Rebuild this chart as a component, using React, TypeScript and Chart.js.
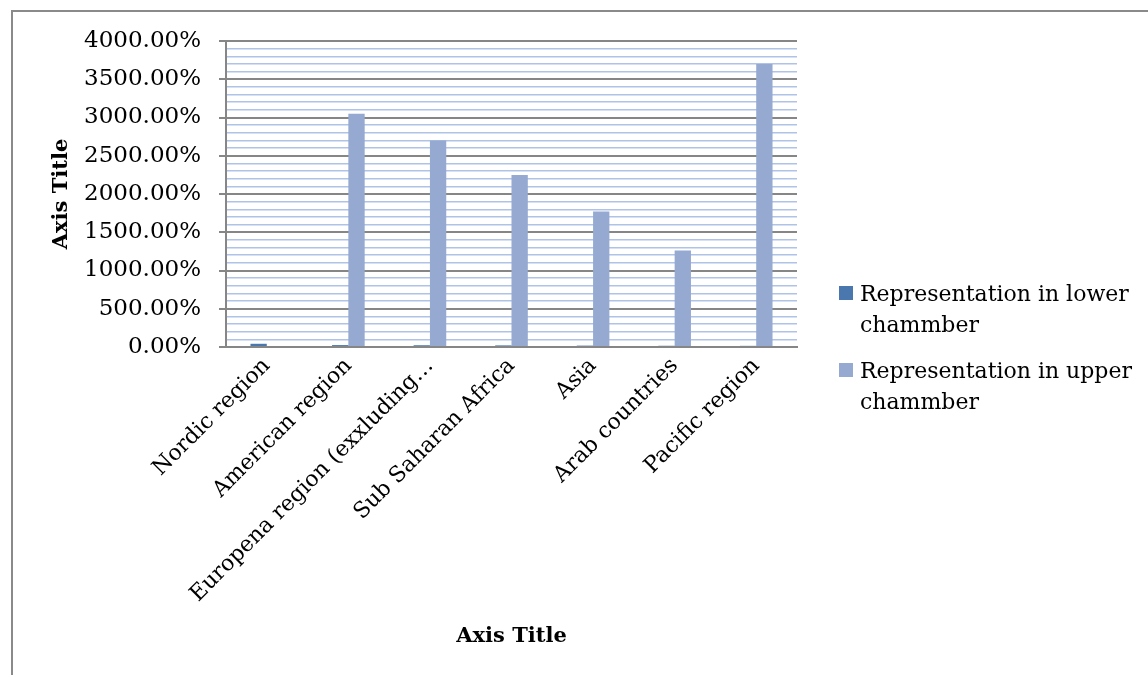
import React, { useEffect, useRef } from "react";
import { Chart, registerables } from "chart.js";

Chart.register(...registerables);

const categories = [
  "Nordic region",
  "American region",
  "Europena region (exxluding…",
  "Sub Saharan Africa",
  "Asia",
  "Arab countries",
  "Pacific region",
];
const lowerChamber = [42, 25, 23, 21, 18, 16, 15];
const upperChamber = [null, 3050, 2700, 2250, 1770, 1260, 3700];
const seriesNames = [
  "Representation in lower chammber",
  "Representation in upper chammber",
];
const seriesColors = ["#4A78AE", "#95A9D1"];
const yMin = 0;
const yMax = 4000;
const yMajorStep = 500;
const yMinorStep = 100;
const axisTitleX = "Axis Title";
const axisTitleY = "Axis Title";

const FONT = "'DejaVu Serif', serif";

export default function App() {
  const ref = useRef<HTMLCanvasElement | null>(null);

  useEffect(() => {
    if (!ref.current) return;
    const isMajor = (v: number) => Math.abs(v % yMajorStep) < 1e-6;
    const chart = new Chart(ref.current, {
      type: "bar",
      data: {
        labels: categories,
        datasets: [
          {
            label: seriesNames[0],
            data: lowerChamber,
            backgroundColor: seriesColors[0],
            categoryPercentage: 0.4,
            barPercentage: 1.0,
          },
          {
            label: seriesNames[1],
            data: upperChamber as any,
            backgroundColor: seriesColors[1],
            categoryPercentage: 0.4,
            barPercentage: 1.0,
          },
        ],
      },
      options: {
        animation: false,
        responsive: false,
        devicePixelRatio: 1,
        layout: { padding: { left: 45, top: 41, right: 351, bottom: 22 } },
        plugins: {
          legend: { display: false },
          tooltip: { enabled: false },
        },
        scales: {
          x: {
            grid: { display: false, drawTicks: false },
            border: { display: true, color: "#868686", width: 2 },
            ticks: {
              color: "#000",
              font: { family: FONT, size: 22 },
              minRotation: 45,
              maxRotation: 45,
              autoSkip: false,
              padding: 6,
            },
            title: {
              display: true,
              text: axisTitleX,
              color: "#000",
              font: { family: FONT, size: 21, weight: "bold" },
            },
            afterFit: (scale: any) => {
              scale.height = 306;
            },
          },
          y: {
            min: yMin,
            max: yMax,
            border: { display: true, color: "#868686", width: 2 },
            grid: {
              color: (ctx: any) =>
                isMajor(ctx.tick.value) ? "#868686" : "#AFC3E7",
              lineWidth: (ctx: any) => (isMajor(ctx.tick.value) ? 2 : 1.5),
              tickLength: 7,
              tickColor: (ctx: any) =>
                isMajor(ctx.tick.value) ? "#868686" : "rgba(0,0,0,0)",
              tickWidth: 2,
            },
            ticks: {
              stepSize: yMinorStep,
              maxTicksLimit: 1000,
              autoSkip: false,
              color: "#000",
              font: { family: FONT, size: 23 },
              padding: 18,
              callback: (v: any) =>
                isMajor(Number(v)) ? Number(v).toFixed(2) + "%" : "",
            },
            title: {
              display: true,
              text: axisTitleY,
              color: "#000",
              font: { family: FONT, size: 21, weight: "bold" },
            },
            afterFit: (scale: any) => {
              scale.width = 181;
            },
          },
        },
      },
    });
    return () => chart.destroy();
  }, []);

  return (
    <div
      style={{
        position: "fixed",
        left: 0,
        top: 0,
        width: 1148,
        height: 675,
        background: "#fff",
        overflow: "hidden",
      }}
    >
      <div
        style={{
          position: "absolute",
          left: 11,
          top: 10,
          width: 1200,
          height: 700,
          borderTop: "2px solid #8A8A8A",
          borderLeft: "2px solid #8A8A8A",
        }}
      />
      <canvas
        ref={ref}
        width={1148}
        height={675}
        style={{ position: "absolute", left: 0, top: 0 }}
      />
      {seriesNames.map((name, i) => (
        <div
          key={name}
          style={{
            position: "absolute",
            left: 839,
            top: 278 + i * 77,
            display: "flex",
            alignItems: "flex-start",
            fontFamily: FONT,
            fontSize: 22,
            lineHeight: "31px",
            color: "#000",
          }}
        >
          <div
            style={{
              width: 14,
              height: 14,
              marginTop: 8,
              marginRight: 7,
              background: seriesColors[i],
              flex: "none",
            }}
          />
          <div style={{ width: 288 }}>{name}</div>
        </div>
      ))}
    </div>
  );
}
